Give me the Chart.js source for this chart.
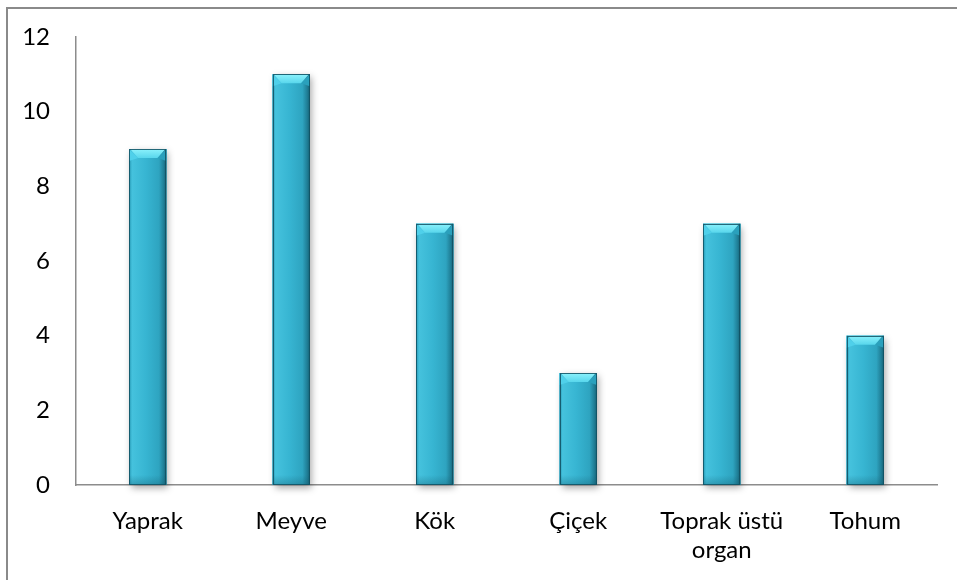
<!DOCTYPE html>
<html>
<head>
<meta charset="utf-8">
<script src="https://cdn.jsdelivr.net/npm/chart.js@4"></script>
<style>
  html, body { margin: 0; padding: 0; background: #fff; }
  #wrap { width: 957px; height: 580px; }
</style>
</head>
<body>
<div id="wrap"><canvas id="organChart" width="957" height="580"></canvas></div>
<script>
const categories = ["Yaprak", "Meyve", "Kök", "Çiçek", ["Toprak üstü", "organ"], "Tohum"];
const counts = [9, 11, 7, 3, 7, 4];
const yTicks = { min: 0, max: 12, step: 2 };

// soft shadow under each bar, drawn before the bars
const barShadow = {
    id: 'barShadow',
    beforeDatasetsDraw(chart) {
        const ctx = chart.ctx;
        chart.getDatasetMeta(0).data.forEach(bar => {
            const { x, y, base, width } = bar.getProps(['x', 'y', 'base', 'width'], true);
            ctx.save();
            ctx.shadowColor = 'rgba(0,0,0,0.35)';
            ctx.shadowBlur = 7;
            ctx.shadowOffsetX = 2;
            ctx.shadowOffsetY = 3;
            ctx.fillStyle = '#2a9cb8';
            ctx.fillRect(x - width / 2, y, width, base - y);
            ctx.restore();
        });
    }
};

// bevelled, cylinder-like shading painted over each bar
const bevelBars = {
    id: 'bevelBars',
    afterDatasetsDraw(chart) {
        const ctx = chart.ctx;
        chart.getDatasetMeta(0).data.forEach(bar => {
            const { x, y, base, width } = bar.getProps(['x', 'y', 'base', 'width'], true);
            const left = x - width / 2;
            const right = x + width / 2;
            const b = 9;

            ctx.save();
            const body = ctx.createLinearGradient(left, 0, right, 0);
            body.addColorStop(0, '#2497b3');
            body.addColorStop(0.08, '#45c2dd');
            body.addColorStop(0.45, '#37b5d2');
            body.addColorStop(0.8, '#2ea4c0');
            body.addColorStop(0.93, '#1f7d95');
            body.addColorStop(1, '#155f72');
            ctx.fillStyle = body;
            ctx.fillRect(left, y, width, base - y);

            // bottom band, a little darker
            const bottom = ctx.createLinearGradient(0, base - 10, 0, base);
            bottom.addColorStop(0, 'rgba(20,90,110,0)');
            bottom.addColorStop(1, 'rgba(20,90,110,0.35)');
            ctx.fillStyle = bottom;
            ctx.fillRect(left, base - 10, width, 10);

            // top cap: left and right bevels
            ctx.fillStyle = '#4fd0ea';
            ctx.beginPath();
            ctx.moveTo(left, y);
            ctx.lineTo(left + b, y + b);
            ctx.lineTo(left, y + b + 3);
            ctx.closePath();
            ctx.fill();
            ctx.fillStyle = '#2aa0bc';
            ctx.beginPath();
            ctx.moveTo(right, y);
            ctx.lineTo(right - b, y + b);
            ctx.lineTo(right, y + b + 3);
            ctx.closePath();
            ctx.fill();

            // top cap: bright face
            const cap = ctx.createLinearGradient(0, y, 0, y + b);
            cap.addColorStop(0, '#8cf2fc');
            cap.addColorStop(1, '#58d6ec');
            ctx.fillStyle = cap;
            ctx.beginPath();
            ctx.moveTo(left + 1, y);
            ctx.lineTo(right - 1, y);
            ctx.lineTo(right - b, y + b);
            ctx.lineTo(left + b, y + b);
            ctx.closePath();
            ctx.fill();

            // outline
            ctx.strokeStyle = 'rgba(16,80,98,0.85)';
            ctx.lineWidth = 1;
            ctx.strokeRect(Math.round(left) + 0.5, Math.round(y) + 0.5, Math.round(width) - 1, Math.round(base - y) - 1);
            ctx.restore();
        });
    }
};

// frame around the whole chart
const outerFrame = {
    id: 'outerFrame',
    afterDraw(chart) {
        const ctx = chart.ctx;
        ctx.save();
        ctx.strokeStyle = '#8a8a8a';
        ctx.lineWidth = 2;
        ctx.strokeRect(7, 8, 980, 600);
        ctx.restore();
    }
};

new Chart(document.getElementById('organChart'), {
    type: 'bar',
    data: {
        labels: categories,
        datasets: [{
            data: counts,
            backgroundColor: '#36b4d1',
            borderWidth: 0,
            categoryPercentage: 1,
            barPercentage: 0.26
        }]
    },
    options: {
        responsive: false,
        animation: false,
        layout: { padding: { left: 0, right: 20, top: 37, bottom: 0 } },
        plugins: {
            legend: { display: false },
            tooltip: { enabled: false }
        },
        scales: {
            x: {
                grid: { display: false, drawTicks: false },
                border: { display: true, color: '#8c8c8c', width: 1.5 },
                ticks: {
                    color: '#000',
                    padding: 22,
                    maxRotation: 0,
                    autoSkip: false,
                    font: { family: 'Lato', size: 24, lineHeight: 1.2 }
                },
                afterFit(scale) {
                    scale.height = 95;
                    scale.paddingLeft = 0;
                    scale.paddingRight = 0;
                }
            },
            y: {
                min: yTicks.min,
                max: yTicks.max,
                grid: { display: false, drawTicks: false },
                border: { display: true, color: '#8c8c8c', width: 1.5 },
                ticks: {
                    stepSize: yTicks.step,
                    color: '#000',
                    padding: 26,
                    font: { family: 'Lato', size: 24 }
                },
                afterFit(scale) {
                    scale.width = 76;
                    scale.paddingTop = 0;
                    scale.paddingBottom = 0;
                }
            }
        }
    },
    plugins: [barShadow, bevelBars, outerFrame]
});
</script>
</body>
</html>
